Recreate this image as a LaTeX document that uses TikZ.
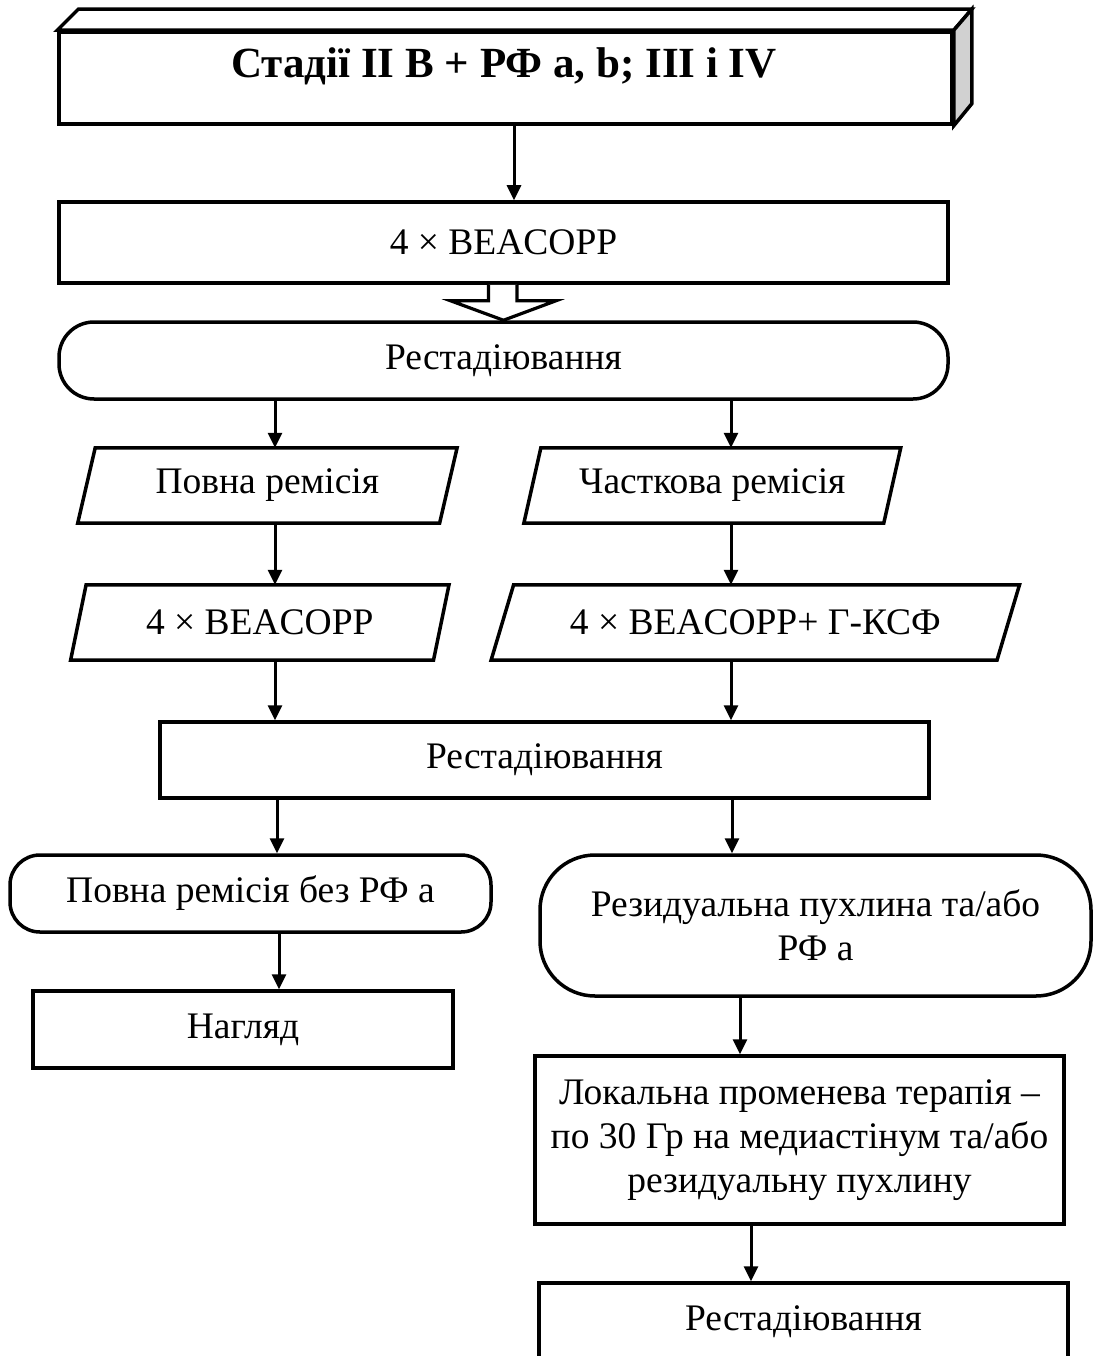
\documentclass[tikz,border=0pt]{standalone}
\usepackage{fontspec}
\setmainfont{Liberation Serif}
\usetikzlibrary{arrows.meta,calc}
\newcommand\drawpara[2]{\draw[line width=3.5pt, line join=miter] ($(#1.north west)+(#2,0)$) -- ($(#1.north east)+(#2,0)$) -- ($(#1.south east)+(-#2,0)$) -- ($(#1.south west)+(-#2,0)$) -- cycle;}
\tikzset{
  base/.style={draw, line width=3.5pt, inner sep=0pt, align=center, font=\fontsize{37.5}{44}\selectfont},
  plain/.style={inner sep=0pt, align=center, font=\fontsize{37.5}{44}\selectfont},
  arr/.style={line width=3pt, -{Triangle[length=15pt,width=14pt]}},
}
\begin{document}
\begin{tikzpicture}[x=1pt,y=-1pt]
\clip (0,0) rectangle (1093,1356);
\fill[white] (0,0) rectangle (1093,1356);
% title box (3D)
\node[base, minimum width=893pt, minimum height=92pt] (tt) at (505.5,78) {};
\draw[line width=3.5pt, line join=miter, fill=white] (tt.north west) -- ++(21,-21) -- ($(tt.north east)+(18,-21)$) -- (tt.north east) -- cycle;
\draw[line width=3.5pt, line join=miter, fill=black!18] (tt.north east) -- ++(18,-21) -- ($(tt.south east)+(18,-22)$) -- (tt.south east) -- cycle;
\node[inner sep=0pt, font=\fontsize{43}{50}\selectfont\bfseries] (ttl) at (504,66) {Стадії II В + РФ a, b; III і IV};
% boxes
\node[base, minimum width=889pt, minimum height=81pt] (b1) at (503.5,242.5) {4 × BEACOPP};
\node[base, rounded corners=35pt, minimum width=889pt, minimum height=77pt] (r1) at (503.5,360.5) {Рестадіювання};
\node[plain, minimum width=361.5pt, minimum height=75pt] (p1) at (267.4,485.5) {Повна ремісія};
\node[plain, minimum width=359.5pt, minimum height=75pt] (p2) at (712.3,485.5) {Часткова ремісія};
\node[plain, minimum width=362.5pt, minimum height=75pt] (p3) at (259.8,622.5) {4 × BEACOPP};
\node[plain, minimum width=505.5pt, minimum height=75pt] (p4) at (755.3,622.5) {4 × BEACOPP+ Г-КСФ};
\drawpara{p1}{8.75}
\drawpara{p2}{8.5}
\drawpara{p3}{7.75}
\drawpara{p4}{11.25}
\node[base, minimum width=769pt, minimum height=76pt] (b2) at (544.5,760) {Рестадіювання};
\node[base, rounded corners=30pt, minimum width=481pt, minimum height=77pt] (r2) at (250.5,893.5) {Повна ремісія без РФ a};
\node[base, rounded corners=55pt, minimum width=551pt, minimum height=141pt] (r3) at (815.5,925.5) {Резидуальна пухлина та/або\\РФ a};
\node[base, minimum width=420pt, minimum height=77pt] (b3) at (243,1029.5) {Нагляд};
\node[base, minimum width=529pt, minimum height=168pt] (b4) at (799.5,1140) {Локальна променева терапія –\\по 30 Гр на медиастінум та/або\\резидуальну пухлину};
\node[base, minimum width=529pt, minimum height=77pt] (b5) at (803.5,1321.5) {Рестадіювання};
% column coordinates
\coordinate (c1) at (514,0);
\coordinate (cL) at (275,0);
\coordinate (cR) at (731,0);
\coordinate (cL2) at (277,0);
\coordinate (cL3) at (279,0);
\coordinate (cR2) at (732,0);
\coordinate (cR3) at (740,0);
\coordinate (cR4) at (751,0);
% connectors
\draw[arr] (tt.south -| c1) -- (b1.north -| c1);
\draw[line width=3.2pt, line join=miter, fill=white] ($(b1.south)+(-15,0)$) -- ++(0,16) -- ++(-38,0) -- (r1.north) -- ($(b1.south)+(52.5,16)$) -- ++(-39,0) -- ++(0,-16);
\draw[arr] (r1.south -| cL) -- (p1.north -| cL);
\draw[arr] (r1.south -| cR) -- (p2.north -| cR);
\draw[arr] (p1.south -| cL) -- (p3.north -| cL);
\draw[arr] (p2.south -| cR) -- (p4.north -| cR);
\draw[arr] (p3.south -| cL) -- (b2.north -| cL);
\draw[arr] (p4.south -| cR) -- (b2.north -| cR);
\draw[arr] (b2.south -| cL2) -- (r2.north -| cL2);
\draw[arr] (b2.south -| cR2) -- (r3.north -| cR2);
\draw[arr] (r2.south -| cL3) -- (b3.north -| cL3);
\draw[arr] (r3.south -| cR3) -- (b4.north -| cR3);
\draw[arr] (b4.south -| cR4) -- (b5.north -| cR4);
\end{tikzpicture}
\end{document}
